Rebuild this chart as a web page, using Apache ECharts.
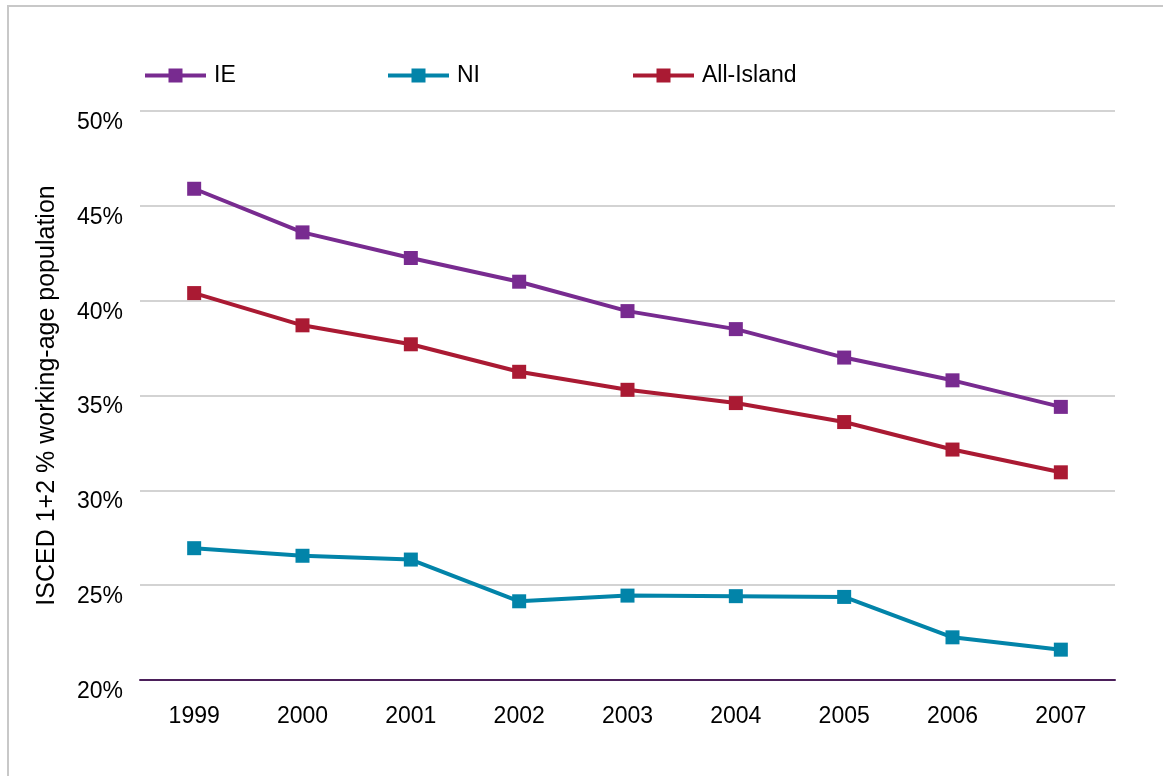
<!DOCTYPE html>
<html>
<head>
<meta charset="utf-8">
<script src="https://cdn.jsdelivr.net/npm/echarts@6/dist/echarts.min.js"></script>
<style>
  html, body { margin: 0; padding: 0; background: #fff; }
  #frame { position: absolute; left: 7px; top: 5px; width: 1170px; height: 790px;
           border: 2px solid #c8c8c8; box-sizing: border-box; }
  #chart { position: absolute; left: 0; top: 0; width: 1163px; height: 776px; }
</style>
</head>
<body>
<div id="frame"></div>
<div id="chart"></div>
<script>
// Share of working-age population with ISCED 1+2 attainment, 1999-2007
const years = ['1999', '2000', '2001', '2002', '2003', '2004', '2005', '2006', '2007'];
const ieValues = [45.9, 43.6, 42.25, 41.0, 39.45, 38.5, 37.0, 35.8, 34.4];
const niValues = [26.95, 26.55, 26.35, 24.15, 24.45, 24.42, 24.38, 22.25, 21.6];
const allIslandValues = [40.4, 38.7, 37.7, 36.25, 35.3, 34.6, 33.6, 32.15, 30.95];

const seriesNames = ['IE', 'NI', 'All-Island'];
const seriesColors = ['#782b90', '#0284a9', '#aa1a33'];
const seriesValues = [ieValues, niValues, allIslandValues];

const font = '"Liberation Sans", Arial, Helvetica, sans-serif';
const chart = echarts.init(document.getElementById('chart'), null, { renderer: 'canvas' });

// Legend marker: a thick line with a square in its middle
const legendIcon = 'path://M0,5H23.5V0H37.5V5H61V9H37.5V14H23.5V9H0Z';
const legendLefts = [140, 383, 628];

chart.setOption({
  animation: false,
  backgroundColor: 'transparent',
  textStyle: { fontFamily: font },
  legend: seriesNames.map((name, i) => ({
    data: [{ name, icon: legendIcon }],
    left: legendLefts[i],
    top: 59,
    itemWidth: 61,
    itemHeight: 14,
    itemGap: 8,
    textStyle: { fontFamily: font, fontSize: 23, color: '#000', padding: [0, 0, 0, 3] }
  })),
  grid: { left: 140, right: 48, top: 111, bottom: 96, containLabel: false },
  xAxis: {
    type: 'category',
    data: years,
    boundaryGap: true,
    axisLine: { show: true, lineStyle: { color: '#4b1f5a', width: 2 } },
    axisTick: { show: false },
    axisLabel: { color: '#000', fontSize: 23, fontFamily: font, margin: 25 },
    splitLine: { show: false }
  },
  yAxis: {
    type: 'value',
    min: 20,
    max: 50,
    interval: 5,
    name: 'ISCED 1+2 % working-age population',
    nameLocation: 'middle',
    nameGap: 80,
    nameTextStyle: { color: '#000', fontSize: 25, fontFamily: font, padding: [0, 0, 0, 0] },
    axisLine: { show: false },
    axisTick: { show: false },
    axisLabel: { color: '#000', fontSize: 23, fontFamily: font, margin: 17,
                 verticalAlign: 'top', lineHeight: 23,
                 formatter: v => v + '%' },
    splitLine: { show: true, lineStyle: { color: '#c4c4c4', width: 1.5 } }
  },
  series: seriesNames.map((name, i) => ({
    name,
    type: 'line',
    data: seriesValues[i],
    symbol: 'rect',
    symbolSize: 14,
    showSymbol: true,
    color: seriesColors[i],
    lineStyle: { color: seriesColors[i], width: 4 },
    itemStyle: { color: seriesColors[i] },
    z: 3
  }))
});
</script>
</body>
</html>
